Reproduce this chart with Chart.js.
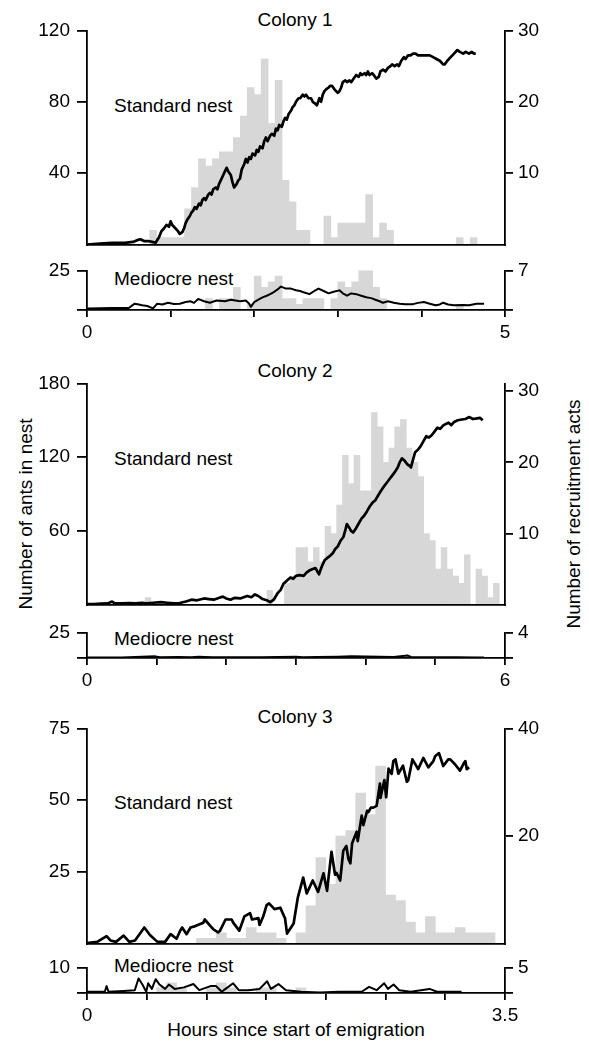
<!DOCTYPE html>
<html>
<head>
<meta charset="utf-8">
<title>Emigration to standard and mediocre nests</title>
<script src="https://cdn.jsdelivr.net/npm/chart.js@4.4.1/dist/chart.umd.min.js"></script>
<style>
  html, body { margin: 0; padding: 0; background: #fff; }
  body { position: relative; width: 589px; height: 1043px; overflow: hidden;
         font-family: "Liberation Sans", Arial, Helvetica, sans-serif; color: #000; }
  canvas { position: absolute; left: 0; }
  .txt { position: absolute; font-size: 19px; line-height: 19px; white-space: nowrap; }
  .ctr { transform: translateX(-50%); }
  .rot { transform: translate(-50%, -50%) rotate(-90deg); }
</style>
</head>
<body>
<div class="txt ctr" style="left:295px;top:10px">Colony 1</div>
<div class="txt" style="left:114px;top:96px">Standard nest</div>
<div class="txt" style="left:114px;top:269px">Mediocre nest</div>
<div class="txt ctr" style="left:295px;top:361px">Colony 2</div>
<div class="txt" style="left:114px;top:449px">Standard nest</div>
<div class="txt" style="left:114px;top:629px">Mediocre nest</div>
<div class="txt ctr" style="left:295px;top:707px">Colony 3</div>
<div class="txt" style="left:114px;top:793px">Standard nest</div>
<div class="txt" style="left:114px;top:956px">Mediocre nest</div>
<div class="txt ctr" style="left:296px;top:1020px">Hours since start of emigration</div>
<div class="txt rot" style="left:25px;top:514px">Number of ants in nest</div>
<div class="txt rot" style="left:573px;top:514px">Number of recruitment acts</div>

<script>
// recruitment acts per 5-minute bin (right axis)
const c1StandardRecruit = [0,0,0,0,0,0,0,0,0,2, 1,1,1,1,5,8,12,11,12,13, 13,15,18,22,21,26,17,23,9,6,
                           2,2,0,0,4,1,3,3,3,3, 7,1,3,2,0,0,0,0,0,0, 0,0,0,1,0,1,0,0,0,0];
const c1MediocreRecruit = [0,0,0,0,0,0,0,0,0,0, 0,0,0,0,0,0,0,2,0,2, 2,4,0,1,6,4,5,6,2,2,
                           1,2,2,2,0,2,5,4,5,7, 7,4,2,0,0,0,0,0,0,0, 0,0,0,1,0,0,0,0,0,0];
const c2StandardRecruit = [0,0,0,0,0,0,0,0,0,0, 1,0,0,0,0,0,0,0,0,0, 0,0,0,0,0,0,0,0,0,0,
                           0,2,0,0,3,4,8,8,6,8, 6,11,10,14,21,17,21,16,16,27, 25,20,22,25,26,22,20,18,10,9,
                           5,8,5,4,3,7,0,5,4,1, 3,0];
const c2MediocreRecruit = [];
const c3StandardRecruit = [0,0,0,0,0,0,0,0,0,0, 0,1,1,2,1,1,3,2,2,1, 0,2,7,16,11,20,21,28,24,33,
                           9,8,4,2,5,2,2,3,2,2, 2,0];
const c3MediocreRecruit = [0,0,0,0,0,0,0,1,2,1, 0,0,1,2,1,0,0,1,1,0, 0,1,0,0,0,0,0,0,0,0,
                           0,0,0,0,0,0,0,0,0,0, 0,0];

// ants in nest, [hours, ants] (left axis)
const c1StandardAnts = [[0,0],[0.15,0.5],[0.3,1],[0.45,1],[0.55,1.5],[0.6,2.5],[0.64,3],[0.68,2],[0.73,2],[0.78,1.5],
  [0.82,1],[0.86,4],[0.89,7.5],[0.92,9],[0.95,11],[0.98,10],[1.0,13],[1.02,11],[1.04,10],[1.08,8],[1.11,6],[1.14,7],
  [1.16,9],[1.18,12],[1.2,14],[1.23,16],[1.25,18],[1.27,19],[1.29,21],[1.31,20],[1.34,23],[1.36,22],[1.38,25],[1.4,26],
  [1.42,25],[1.45,28],[1.47,29],[1.49,28],[1.51,31],[1.54,32],[1.56,31],[1.58,34],[1.6,36],[1.63,39],[1.65,41],[1.67,43],
  [1.69,41],[1.72,39],[1.74,35],[1.76,32],[1.79,34],[1.81,36],[1.83,37],[1.85,42],[1.88,45],[1.9,48],[1.92,46],[1.94,49],
  [1.96,48],[1.98,51],[2.01,50],[2.03,53],[2.05,52],[2.07,55],[2.1,54],[2.12,58],[2.14,60],[2.16,58],[2.19,61],[2.21,62],
  [2.24,61],[2.26,65],[2.28,64],[2.3,67],[2.33,66],[2.35,69],[2.37,71],[2.39,70],[2.41,73],[2.44,75],[2.46,77],[2.48,78],
  [2.5,80],[2.53,82],[2.55,82],[2.58,84],[2.6,83],[2.62,84],[2.65,82],[2.68,82],[2.7,80],[2.73,79],[2.75,78],[2.78,82],
  [2.8,80],[2.82,84],[2.84,86],[2.86,87],[2.89,88],[2.91,89],[2.93,89],[2.96,87],[2.98,86],[3.0,85],[3.02,86],[3.04,88],
  [3.06,91],[3.09,92],[3.11,91],[3.14,92],[3.16,91],[3.19,93],[3.22,95],[3.25,94],[3.27,96],[3.29,95],[3.32,96],[3.34,95],
  [3.36,97],[3.38,95],[3.41,96],[3.43,95],[3.46,93],[3.49,94],[3.51,97],[3.54,98],[3.57,97],[3.6,99],[3.63,100],[3.65,101],
  [3.68,100],[3.71,101],[3.73,100],[3.76,103],[3.79,105],[3.81,104],[3.84,106],[3.87,106],[3.9,107],[3.93,107],[3.96,106],
  [4.0,106],[4.05,106],[4.1,106],[4.14,105],[4.18,104],[4.22,103],[4.26,101],[4.28,101],[4.31,103],[4.35,105],[4.39,107],
  [4.43,109],[4.46,108],[4.5,107],[4.53,108],[4.57,107],[4.6,108],[4.63,107],[4.65,107]];
const c1MediocreAnts = [[0,1],[0.3,1.3],[0.5,1.3],[0.57,4],[0.62,3.5],[0.66,3],[0.72,2.5],[0.79,1],[0.84,4],[0.9,3.5],
  [0.97,4.6],[1.04,3.8],[1.11,4],[1.18,5],[1.24,5.5],[1.28,4.5],[1.33,7],[1.4,5.5],[1.47,4.6],[1.55,6],[1.65,5.5],
  [1.72,6.5],[1.83,5.5],[1.9,6],[1.94,4],[1.96,2],[2.0,5],[2.05,6.5],[2.1,8],[2.15,9],[2.19,10],[2.24,11.5],[2.28,13],
  [2.32,14.8],[2.38,13.5],[2.44,13.5],[2.5,12.5],[2.55,12],[2.6,11],[2.66,10],[2.72,12],[2.77,13.5],[2.83,12],[2.89,10.5],
  [2.95,11.5],[3.02,12.4],[3.06,10.5],[3.11,9],[3.16,10.5],[3.22,10],[3.28,9],[3.34,8],[3.4,7.5],[3.45,6.5],[3.5,5.5],
  [3.54,4.6],[3.6,5.5],[3.67,4.6],[3.74,4],[3.81,3.7],[3.9,3.7],[3.96,4.5],[4.03,5],[4.1,4],[4.17,3],[4.22,3.5],
  [4.26,4.6],[4.32,3.5],[4.39,3],[4.5,3.2],[4.57,3],[4.66,4],[4.75,3.9]];
const c2StandardAnts = [[0,0.5],[0.1,0.5],[0.2,0.8],[0.3,1],[0.36,2.5],[0.4,1],[0.5,1],[0.6,1.2],[0.7,1],[0.79,1.5],
  [0.85,1],[0.95,1.5],[1.06,2],[1.15,1.5],[1.25,1],[1.33,1.3],[1.42,2.5],[1.5,4],[1.58,3.5],[1.68,5],[1.75,4.5],[1.82,4],
  [1.9,5.5],[1.95,6.5],[2.0,5],[2.06,4],[2.12,5.5],[2.2,5],[2.25,6],[2.3,7],[2.36,6],[2.41,8.3],[2.46,7],[2.52,4.5],
  [2.58,3.5],[2.63,2],[2.68,4],[2.74,9.6],[2.78,12],[2.82,17],[2.86,19],[2.92,22],[2.96,21],[3.0,23.4],[3.05,24],
  [3.11,23.4],[3.15,26],[3.19,27.7],[3.24,29],[3.28,29.7],[3.33,24.7],[3.37,31],[3.41,36],[3.45,38],[3.49,39.8],
  [3.53,42],[3.56,45],[3.6,47.4],[3.64,52],[3.68,55],[3.71,61],[3.73,65.5],[3.76,63],[3.79,60],[3.82,58.7],[3.86,62],
  [3.9,66],[3.94,70],[3.98,72.5],[4.02,76],[4.06,80],[4.1,83],[4.14,85],[4.18,89],[4.22,92.7],[4.26,96],[4.3,99],
  [4.34,102],[4.38,105],[4.42,108],[4.46,111.6],[4.49,116],[4.52,119],[4.56,117],[4.6,114],[4.63,113],[4.65,111.6],
  [4.68,118],[4.71,124],[4.75,126],[4.79,129],[4.83,133],[4.87,137],[4.91,136],[4.95,138],[4.99,141],[5.03,144],
  [5.07,143],[5.11,145.6],[5.15,147],[5.19,148],[5.23,146],[5.27,148.6],[5.32,150],[5.38,150.6],[5.43,151],[5.49,152.6],
  [5.54,151],[5.6,151.6],[5.64,152],[5.68,150]];
const c2MediocreAnts = [[0,0.5],[0.5,0.6],[0.98,1.6],[1.05,0.8],[1.3,1],[1.5,0.8],[1.6,1.3],[1.8,0.8],[2.0,0.7],
  [2.5,0.8],[3.0,1.2],[3.1,0.8],[3.3,1],[3.6,1.3],[3.8,1.8],[4.0,1.5],[4.2,1.2],[4.4,1],[4.6,2.5],[4.65,1],[5.0,0.8],
  [5.3,0.7],[5.6,0.5],[5.7,0.5]];
const c3StandardAnts = [[0,0.2],[0.085,0.6],[0.164,2.6],[0.196,1.1],[0.243,0.6],[0.307,2.8],[0.354,0.6],[0.402,1.1],
  [0.48,5.6],[0.527,3],[0.59,0.6],[0.654,0.6],[0.7,3.3],[0.75,1.7],[0.78,4.5],[0.797,5.6],[0.834,3.3],[0.867,5.6],
  [0.907,6.1],[0.974,7.3],[0.986,8.4],[1.034,6.1],[1.058,5],[1.097,3.9],[1.114,4.5],[1.16,8.4],[1.211,8.4],[1.224,7.3],
  [1.275,4.5],[1.318,9.5],[1.365,10.6],[1.382,8.4],[1.435,8.9],[1.445,6.5],[1.476,9.5],[1.504,13.4],[1.524,14],
  [1.57,12],[1.619,12.5],[1.65,9.5],[1.658,8.9],[1.675,3.5],[1.73,7],[1.765,16],[1.81,23],[1.84,17.5],[1.89,22],
  [1.935,18],[1.98,24.5],[2.01,18.4],[2.047,32],[2.077,24],[2.09,24.6],[2.12,22],[2.146,32.4],[2.172,34],[2.188,29.6],
  [2.205,28],[2.22,35],[2.258,39],[2.267,35.7],[2.3,44.6],[2.314,41.3],[2.346,46.3],[2.356,45.8],[2.377,47.4],
  [2.397,47.4],[2.425,48],[2.453,55.8],[2.457,50.8],[2.49,57],[2.505,51],[2.525,61],[2.551,59.2],[2.565,63.6],
  [2.583,64.2],[2.607,59.2],[2.646,62],[2.678,56.4],[2.69,56.9],[2.725,64.2],[2.773,60.8],[2.816,64.7],[2.858,61.4],
  [2.9,63.6],[2.915,65.3],[2.947,66.4],[2.983,61.9],[3.025,64.2],[3.041,64.2],[3.081,62.5],[3.123,60.3],[3.15,62.5],
  [3.168,63.6],[3.18,60.8],[3.2,61.4]];
const c3MediocreAnts = [[0,0.5],[0.149,0.5],[0.164,2.7],[0.18,0.5],[0.307,0.8],[0.4,1.1],[0.432,5.7],[0.464,3.3],
  [0.496,0.5],[0.512,3.8],[0.543,1.6],[0.575,5.4],[0.607,3.3],[0.654,1.6],[0.686,3.3],[0.733,1.6],[0.812,2.2],
  [0.891,3.5],[0.94,1.1],[1.034,2.7],[1.081,2.7],[1.128,0.5],[1.16,1.6],[1.224,3.8],[1.271,1.1],[1.35,1.1],[1.445,1.6],
  [1.508,4.6],[1.54,1.6],[1.603,3.5],[1.666,1.1],[1.792,0.5],[1.95,0.2],[2.109,0.5],[2.3,0.5],[2.362,2.4],[2.425,1.1],
  [2.488,3.8],[2.52,1.6],[2.567,3.3],[2.615,1.1],[2.71,0.5],[2.868,1.6],[2.931,0.5],[3.136,0.5]];

// axis ticks
const c1StandardTicks = [40, 80, 120], c1StandardRightTicks = [10, 20, 30];
const c1MediocreTicks = [0, 25], c1MediocreRightTicks = [0, 7];
const c2StandardTicks = [60, 120, 180], c2StandardRightTicks = [10, 20, 30];
const c2MediocreTicks = [0, 25], c2MediocreRightTicks = [0, 4];
const c3StandardTicks = [25, 50, 75], c3StandardRightTicks = [20, 40];
const c3MediocreTicks = [0, 10], c3MediocreRightTicks = [0, 5];

const BIN_HOURS = 5 / 60;
const PAD_TOP = 14;
const FONT = { family: "'Liberation Sans', Arial, sans-serif", size: 19 };

function toBars(counts) {
    return counts.map((c, i) => ({ x: (i + 0.5) * BIN_HOURS, y: c }));
}

function drawPanel(p) {
    const xH = p.small ? 40 : 14;
    const h = p.bottom - p.top + PAD_TOP + xH;
    const canvas = document.createElement('canvas');
    canvas.width = 589;
    canvas.height = h;
    canvas.style.top = (p.top - PAD_TOP) + 'px';
    document.body.appendChild(canvas);

    const axisLine = { display: true, color: '#000', width: 1.8, z: 1 };
    const hideZero = v => (v === 0 ? '' : String(v));

    new Chart(canvas, {
        type: 'bar',
        data: {
            datasets: [
                {
                    type: 'line',
                    data: p.ants.map(d => ({ x: d[0], y: d[1] })),
                    yAxisID: 'y',
                    borderColor: '#000',
                    borderWidth: p.small ? 2 : 2.7,
                    borderJoinStyle: 'round',
                    pointRadius: 0,
                    tension: 0,
                    order: 0
                },
                {
                    type: 'bar',
                    data: toBars(p.recruit),
                    yAxisID: 'y1',
                    backgroundColor: '#d7d7d7',
                    borderWidth: 0,
                    barPercentage: 1,
                    categoryPercentage: 1,
                    order: 1
                }
            ]
        },
        options: {
            responsive: false,
            animation: false,
            devicePixelRatio: 1,
            layout: { padding: { top: PAD_TOP, left: 0, right: 0, bottom: 0 } },
            plugins: { legend: { display: false }, tooltip: { enabled: false } },
            scales: {
                x: {
                    type: 'linear', min: 0, max: p.xMax, offset: false,
                    border: axisLine,
                    grid: p.small
                        ? { offset: false, drawOnChartArea: false, drawTicks: true, tickLength: 7, color: '#000', lineWidth: 1.8 }
                        : { display: false, offset: false },
                    ticks: p.small
                        ? { display: true, stepSize: p.xStep, autoSkip: false, maxRotation: 0, padding: 4,
                            color: '#000', font: FONT,
                            callback: v => (v === 0 || v === p.xMax) ? String(v) : '' }
                        : { display: false },
                    afterFit: s => { s.height = xH; }
                },
                y: {
                    position: 'left', min: 0, max: p.yMax,
                    border: axisLine,
                    grid: { drawOnChartArea: false, drawTicks: true, tickLength: 10, color: '#000', lineWidth: 1.8 },
                    ticks: { color: '#000', font: FONT, padding: 7, autoSkip: false, callback: hideZero },
                    afterBuildTicks: s => { s.ticks = p.yTicks.map(v => ({ value: v })); },
                    afterFit: s => { s.width = 87; }
                },
                y1: {
                    position: 'right', min: 0, max: p.y1Max,
                    border: axisLine,
                    grid: { drawOnChartArea: false, drawTicks: true, tickLength: 8, color: '#000', lineWidth: 1.8 },
                    ticks: { color: '#000', font: FONT, padding: 5, autoSkip: false, callback: hideZero },
                    afterBuildTicks: s => { s.ticks = p.y1Ticks.map(v => ({ value: v })); },
                    afterFit: s => { s.width = 589 - 505; }
                }
            }
        }
    });
}

// Colony 1
drawPanel({ top: 26, bottom: 249, xMax: 5, yMax: 120, y1Max: 30,
            yTicks: c1StandardTicks, y1Ticks: c1StandardRightTicks,
            ants: c1StandardAnts, recruit: c1StandardRecruit });
drawPanel({ small: true, top: 266, bottom: 310, xMax: 5, xStep: 1, yMax: 25, y1Max: 7,
            yTicks: c1MediocreTicks, y1Ticks: c1MediocreRightTicks,
            ants: c1MediocreAnts, recruit: c1MediocreRecruit });
// Colony 2
drawPanel({ top: 379, bottom: 609, xMax: 6, yMax: 180, y1Max: 31.1,
            yTicks: c2StandardTicks, y1Ticks: c2StandardRightTicks,
            ants: c2StandardAnts, recruit: c2StandardRecruit });
drawPanel({ small: true, top: 628, bottom: 658, xMax: 6, xStep: 1, yMax: 25, y1Max: 4,
            yTicks: c2MediocreTicks, y1Ticks: c2MediocreRightTicks,
            ants: c2MediocreAnts, recruit: c2MediocreRecruit });
// Colony 3
drawPanel({ top: 724, bottom: 948, xMax: 3.5, yMax: 75, y1Max: 40,
            yTicks: c3StandardTicks, y1Ticks: c3StandardRightTicks,
            ants: c3StandardAnts, recruit: c3StandardRecruit });
drawPanel({ small: true, top: 963, bottom: 993, xMax: 3.5, xStep: 0.5, yMax: 10, y1Max: 5,
            yTicks: c3MediocreTicks, y1Ticks: c3MediocreRightTicks,
            ants: c3MediocreAnts, recruit: c3MediocreRecruit });
</script>
</body>
</html>
